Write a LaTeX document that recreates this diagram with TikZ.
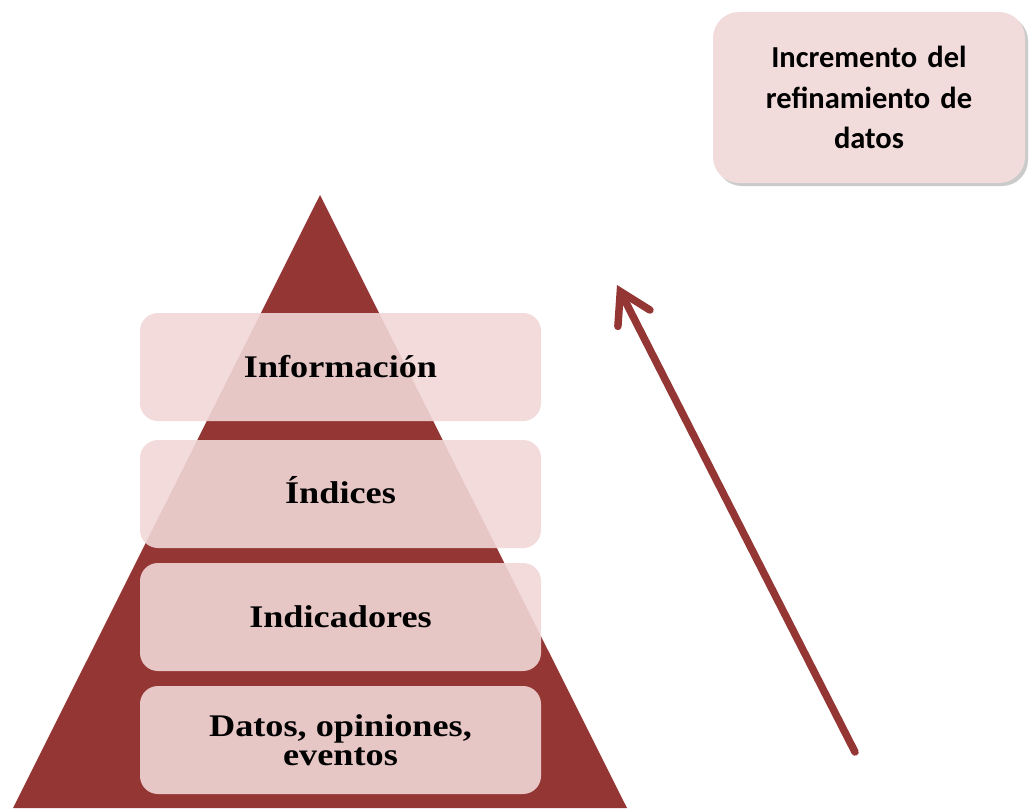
\documentclass[tikz,border=0pt]{standalone}
\usepackage{fontspec}
\setmainfont{Liberation Serif}
\newfontfamily\boxfont[FakeStretch=1.15]{Liberation Serif}
\newfontfamily\notefont{Carlito}
\usetikzlibrary{arrows.meta,shadows}
\definecolor{pyrred}{RGB}{148,54,52}
\definecolor{layerpink}{RGB}{241,215,214}
\definecolor{notepink}{RGB}{242,220,219}
\tikzset{
  layer/.style={draw=none, fill=layerpink, fill opacity=0.9, text opacity=1,
    rounded corners=18pt, minimum width=401pt, minimum height=108pt,
    inner sep=0pt, align=center,
    font=\boxfont\bfseries\fontsize{31.5}{29}\selectfont},
  layertext/.style={inner sep=0pt, align=center,
    font=\boxfont\bfseries\fontsize{31.5}{29}\selectfont},
  note/.style={draw=none, fill=notepink, rounded corners=26pt,
    minimum width=312pt, minimum height=171pt, inner sep=0pt,
    align=center, text width=300pt,
    font=\notefont\bfseries\fontsize{30.5}{40.5}\selectfont,
    drop shadow={shadow xshift=3pt, shadow yshift=-3pt, opacity=0.35, fill=black!60}},
  risearrow/.style={line width=7.5pt, draw=pyrred, line cap=round,
    -{Straight Barb[length=30pt,width=36pt,line cap=round]}}
}
\begin{document}
\begin{tikzpicture}[x=1pt,y=-1pt]
\useasboundingbox (0,0) rectangle (1030,808);
% pyramid
\coordinate (apex) at (320,195);
\coordinate (bl) at (13,808);
\coordinate (br) at (627,808);
\fill[pyrred] (apex) -- (br) -- (bl) -- cycle;
% layers
\node[layer] (info) at (340.5,367) {Información};
\node[layer] (indices) at (340.5,494) {};
\node[layertext] (indiceslabel) at (340.5,490) {Índices};
\node[layer] (indic) at (340.5,617) {Indicadores};
\node[layer] (datos) at (340.5,740) {Datos, opiniones,\\eventos};
% note box
\node[note] (nota) at (869,97.5) {Incremento del\\refinamiento de\\datos};
% arrow
\coordinate (astart) at (855,752);
\coordinate (aend) at (617,285);
\draw[risearrow] (astart) -- (aend);
\end{tikzpicture}
\end{document}
